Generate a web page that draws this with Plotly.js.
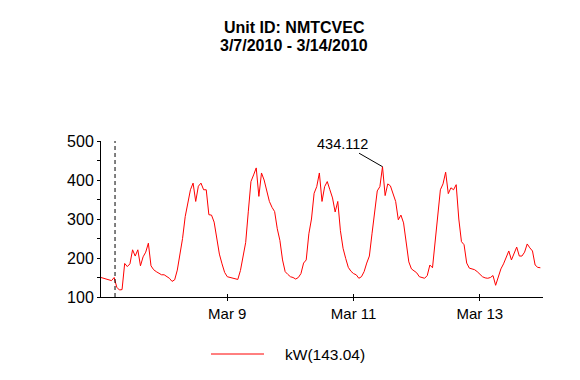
<!DOCTYPE html>
<html><head><meta charset="utf-8">
<script src="https://cdn.plot.ly/plotly-3.0.1.min.js"></script>
<style>html,body{margin:0;padding:0;background:#fff}#chart{width:580px;height:380px}</style>
</head><body><div id="chart"></div>
<script>
const titleLines = ["Unit ID: NMTCVEC", "3/7/2010 - 3/14/2010"];
const seriesName = "kW(143.04)";
const days = ["2010-03-07","2010-03-08","2010-03-09","2010-03-10","2010-03-11","2010-03-12","2010-03-13"];
// hourly kW readings, one array per day (00:00 .. 23:00)
const kwMar07 = [150,148,147,145,142,150,125,118,119,186,178,185,221,205,221,180,203,215,238,180,170,165,160,157];
const kwMar08 = [157,152,148,140,144,169,205,250,306,341,375,392,345,384,392,375,375,311,310,292,245,210,185,163];
const kwMar09 = [152,150,149,147,145,168,200,240,320,396,413,431,358,418,400,375,345,330,319,275,245,195,165,158];
const kwMar10 = [152,150,146,150,160,187,195,262,300,366,383,418,345,383,396,375,354,318,345,270,225,199,176,166];
const kwMar11 = [160,157,148,152,165,187,205,262,320,372,383,434.112,360,390,385,362,345,298,310,290,234,190,172,168];
const kwMar12 = [162,152,150,148,155,182,175,240,315,375,390,420,365,380,375,388,300,242,234,187,174,172,170,165];
const kwMar13 = [158,152,149,148,150,155,130,150,172,185,200,218,195,214,228,205,205,215,236,226,218,182,176,175];
const dailySeries = [kwMar07,kwMar08,kwMar09,kwMar10,kwMar11,kwMar12,kwMar13];
const xRange = ["2010-03-07 00:00","2010-03-14 00:00"];
const xTickVals = ["2010-03-09","2010-03-11","2010-03-13"];
const xTickText = ["Mar 9","Mar 11","Mar 13"];
const yTickVals = [100,200,300,400,500];
const peakTime = "2010-03-11 11:00";
const peakValue = 434.112;
const peakLabel = "434.112";
const markerTime = "2010-03-07 05:20";

const pad = n => (n < 10 ? "0" : "") + n;
const xs = [], ys = [];
dailySeries.forEach((arr, d) => {
  arr.forEach((v, h) => { xs.push(days[d] + " " + pad(h) + ":00"); ys.push(v); });
});

const FONT = "Liberation Sans, Arial, sans-serif";
const data = [
  {x: xs, y: ys, type: "scatter", mode: "lines", name: seriesName,
   line: {color: "#ff0000", width: 1}, showlegend: false, hoverinfo: "skip"},
  {x: [], y: [], type: "scatter", mode: "lines", xaxis: "x2", showlegend: false, hoverinfo: "skip"}
];

const layout = {
  width: 580, height: 380,
  margin: {l: 101, r: 37, t: 141, b: 83},
  paper_bgcolor: "#ffffff", plot_bgcolor: "#ffffff",
  font: {family: FONT, color: "#000"},
  showlegend: false,
  xaxis: {type: "date", range: xRange, tickmode: "array", tickvals: xTickVals, ticktext: xTickText,
          ticks: "outside", ticklen: 3, tickcolor: "#000", tickwidth: 1,
          showline: true, linecolor: "#000", linewidth: 1, showgrid: false, zeroline: false,
          tickfont: {family: FONT, size: 15, color: "#000"}},
  xaxis2: {type: "date", overlaying: "x", matches: "x", anchor: "y", tickmode: "array", tickvals: xTickVals,
          ticks: "inside", ticklen: 3, tickcolor: "#000", tickwidth: 1, showticklabels: false,
          showline: false, showgrid: false, zeroline: false},
  yaxis: {range: [100, 500], tickmode: "array", tickvals: yTickVals,
          ticks: "outside", ticklen: 3, tickcolor: "#000", tickwidth: 1,
          minor: {dtick: 50, tick0: 100, ticks: "outside", ticklen: 3, tickcolor: "#000", showgrid: false},
          showline: true, linecolor: "#000", linewidth: 1, showgrid: false, zeroline: false,
          tickfont: {family: FONT, size: 16, color: "#000"}},
  shapes: [
    {type: "line", xref: "x", yref: "paper", x0: markerTime, x1: markerTime, y0: 0, y1: 1,
     line: {color: "#000", width: 1, dash: "4px,3px"}},
    {type: "line", xref: "paper", yref: "paper", x0: 0.2489, x1: 0.3688, y0: -0.3654, y1: -0.3654,
     line: {color: "#ff0000", width: 1}}
  ],
  annotations: [
    {xref: "paper", yref: "paper", x: 0.4367, y: 1.7276, xanchor: "center", yanchor: "middle",
     text: "<b>" + titleLines[0] + "</b>", showarrow: false, borderpad: 0,
     font: {family: FONT, size: 16, color: "#000"}},
    {xref: "paper", yref: "paper", x: 0.4367, y: 1.6122, xanchor: "center", yanchor: "middle",
     text: "<b>" + titleLines[1] + "</b>", showarrow: false, borderpad: 0,
     font: {family: FONT, size: 16, color: "#000"}},
    {xref: "x", yref: "y", x: peakTime, y: peakValue, text: peakLabel, showarrow: true,
     arrowhead: 0, arrowwidth: 1, arrowcolor: "#000", ax: -40, ay: -23,
     font: {family: FONT, size: 14.5, color: "#000"}},
    {xref: "paper", yref: "paper", x: 0.4118, y: -0.3654, xanchor: "left", yanchor: "middle",
     text: seriesName, showarrow: false, font: {family: FONT, size: 15.5, color: "#000"}}
  ]
};

Plotly.newPlot("chart", data, layout, {displayModeBar: false, staticPlot: true});
</script>
</body></html>
